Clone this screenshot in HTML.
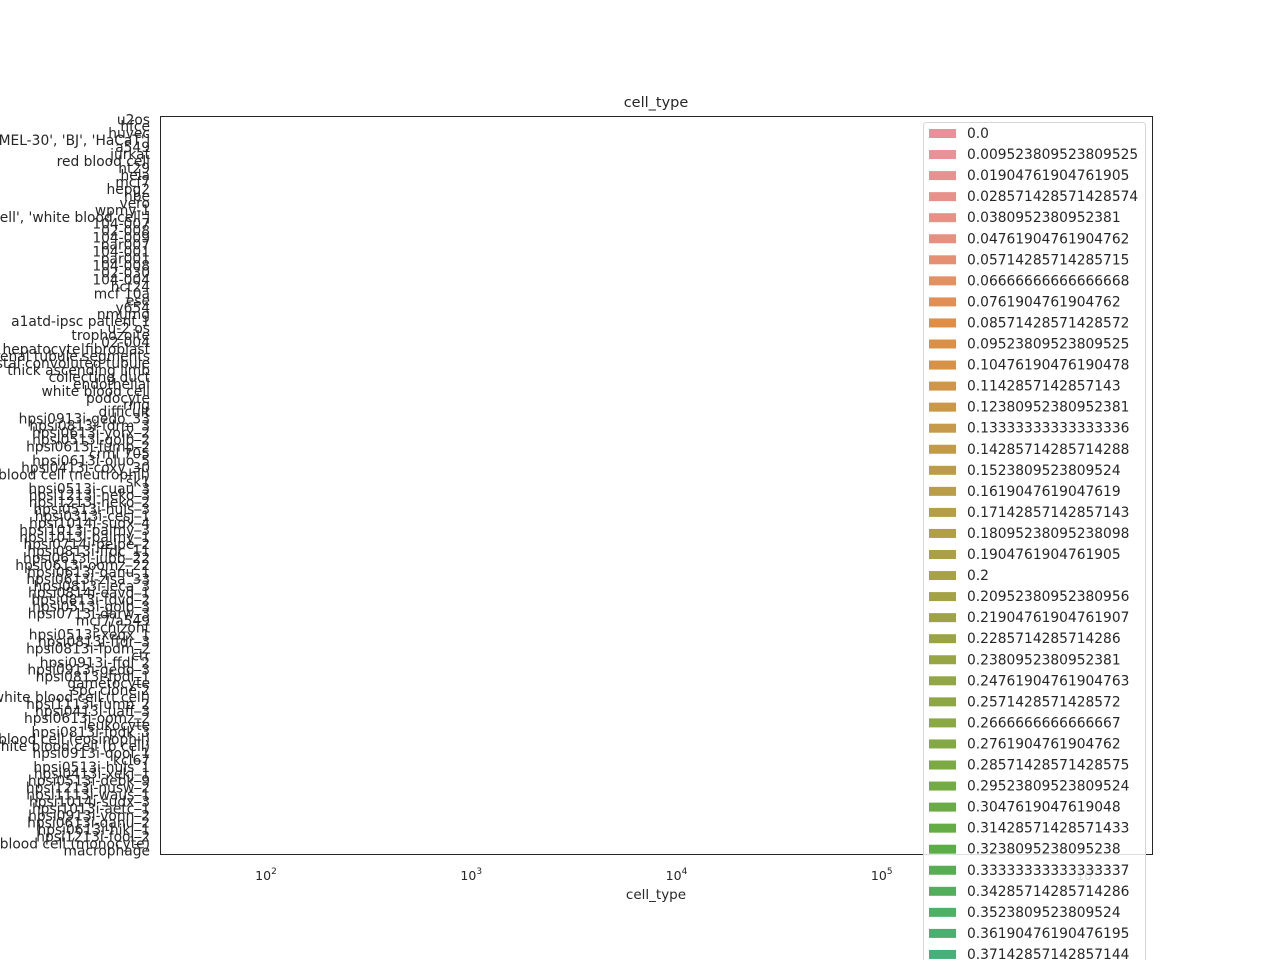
<!DOCTYPE html>
<html><head><meta charset="utf-8"><style>
body{margin:0;background:#fff}
svg text{font-family:"DejaVu Sans","Liberation Sans",sans-serif;fill:#262626}
</style></head><body>
<svg id="chart" width="1280" height="960" xmlns="http://www.w3.org/2000/svg">
<rect x="0" y="0" width="1280" height="960" fill="#fff"/>
<g id="ylabels"></g>
<rect x="160.5" y="116.5" width="992" height="738" fill="none" stroke="#262626" stroke-width="1"/>
<text x="656" y="107" font-size="14.5" text-anchor="middle">cell_type</text>
<text x="656" y="899" font-size="13.5" text-anchor="middle">cell_type</text>
<g id="xticks"></g>
<g id="legend"></g>
</svg>
<script>
const categories = ["u2os","hfce","huvec","['SK-MEL-30', 'BJ', 'HaCaT']","a549","jurkat","red blood cell","ht29","hela","mcf7","hepg2","hbe","vero","wpmy-1","['cell', 'white blood cell']","104-007","02-008","104-009","par007","104-001","par001","104-008","02-030","104-004","hct24","mcf 10a","ese","y654","nmumg","a1atd-ipsc patient 1","u-2 os","trophozoite","02-004","hepatocyte|fibroblast","renal tubule segments","distal convoluted tubule","thick ascending limb","collecting duct","endothelial","white blood cell","podocyte","ring","difficult","hpsi0913i-gedo_33","hpsi0813i-fdrm_3","hpsi0613i-yorx_2","hpsi0513i-golb_2","hpsi0613i-fump_2","crml 705","hpsi0613i-oluo_5","hpsi0413i-coxy_30","white blood cell (neutrophil)","sk1","hpsi0513i-cuau_3","hpsi1213i-neko_3","hpsi1213i-neko_2","hpsi0513i-huls_3","hpsi0313i-cesj_1","hpsi1014i-sudx_4","hpsi1013i-palmy_3","hpsi1013i-palmy_1","hpsi0714i-pelpe_2","hpsi0813i-ffdc_11","hpsi0613i-jubb_22","hpsi0613i-oomz_22","hpsi0613i-qanu_1","hpsi0613i-zisa_33","hpsi0813i-ieca_3","hpsi0814i-eavd_1","hpsi0813i-fdvd_2","hpsi0513i-golb_3","hpsi0713i-darw_3","mcf7/a549","schizont","hpsi0513i-xeqx_1","hpsi0813i-ffdr_3","hpsi0813i-fpdm_2","ctr","hpsi0913i-ffdl_2","hpsi0913i-gedo_3","hpsi0813i-fpdl_1","gametocyte","spc clone 2","white blood cell (t cell)","hpsi1113i-fump_2","hpsi0413i-uaff_3","hpsi0613i-oomz_2","leukocyte","hpsi0813i-fpdk_3","white blood cell (eosinophil)","white blood cell (b cell)","hpsi0913i-qool_1","kcl67","hpsi0513i-huls_1","hpsi0413i-xekj_1","hpsi0513i-debk_9","hpsi1213i-nusw_2","hpsi1113i-waus_1","hpsi1014i-sudx_3","hpsi1013i-aetc_1","hpsi0913i-vonn_2","hpsi0613i-qanu_2","hpsi0613i-hikj_1","hpsi1213i-fooi_2","white blood cell (monocyte)","macrophage"];
const xTickExponents = [2,3,4,5,6];
const legendCount = 40;

const NS="http://www.w3.org/2000/svg";
const plotTop=116, plotBottom=854, plotLeft=160, plotRight=1152;
const band=(plotBottom-plotTop)/categories.length;
function yScale(i){return plotTop+band*(i+0.5);}
function xScale(v){return 266+(Math.log10(v)-2)*205.25;}

const yl=document.getElementById('ylabels');
categories.forEach((c,i)=>{
  const t=document.createElementNS(NS,'text');
  t.setAttribute('x',150);t.setAttribute('y',yScale(i)+4.8);
  t.setAttribute('font-size','13.8');t.setAttribute('text-anchor','end');
  t.textContent=c;
  
  
  yl.appendChild(t);
});

const xt=document.getElementById('xticks');
xTickExponents.forEach(e=>{
  const x=xScale(Math.pow(10,e));
  const t=document.createElementNS(NS,'text');
  t.setAttribute('x',x);t.setAttribute('y',880);
  t.setAttribute('font-size','12.5');t.setAttribute('text-anchor','middle');
  t.innerHTML='10<tspan dy="-6" font-size="9">'+e+'</tspan>';
  
  
  xt.appendChild(t);
});

const anchors=[[0,[232,145,155]],[5,[230,145,128]],[9,[224,142,70]],[14,[198,154,74]],[20,[172,160,70]],[28,[138,168,68]],[34,[92,173,70]],[39,[69,176,122]]];
function colorAt(k){
  for(let a=0;a<anchors.length-1;a++){
    const [k0,c0]=anchors[a],[k1,c1]=anchors[a+1];
    if(k>=k0&&k<=k1){const f=(k-k0)/(k1-k0);return 'rgb('+c0.map((v,j)=>Math.round(v+(c1[j]-v)*f)).join(',')+')';}
  }
  return 'rgb(69,176,122)';
}
const lg=document.getElementById('legend');
const box=document.createElementNS(NS,'rect');
box.setAttribute('x',923.5);box.setAttribute('y',122.5);box.setAttribute('width',222);box.setAttribute('height',860);
box.setAttribute('rx',3);box.setAttribute('fill','#fff');box.setAttribute('fill-opacity','0.85');box.setAttribute('stroke','#d6d6d6');


lg.appendChild(box);
const step=1/105;
for(let k=0;k<legendCount;k++){
  const y=133+k*21.05;
  const r=document.createElementNS(NS,'rect');
  r.setAttribute('x',929);r.setAttribute('y',y-4);r.setAttribute('width',27);r.setAttribute('height',9);
  r.setAttribute('fill',colorAt(k));
  
  
  lg.appendChild(r);
  const t=document.createElementNS(NS,'text');
  t.setAttribute('x',967);t.setAttribute('y',y+5);t.setAttribute('font-size','13.8');
  const v=k*step;
  t.textContent=k===0?'0.0':String(v);
  
  
  lg.appendChild(t);
}
</script>
</body></html>
